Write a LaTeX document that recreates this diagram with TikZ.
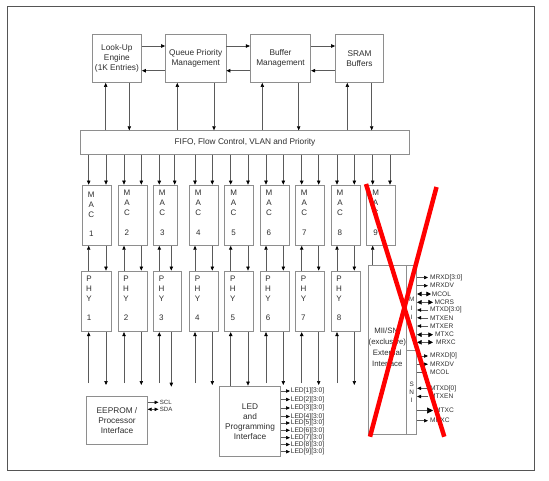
\documentclass[tikz,border=0pt]{standalone}
\usepackage{fontspec}
\setmainfont{Liberation Sans}
\usetikzlibrary{arrows.meta}
\definecolor{boxc}{HTML}{8E8E8E}
\definecolor{linec}{HTML}{5A5A5A}
\definecolor{txtc}{HTML}{2E2E2E}
\definecolor{framec}{HTML}{555555}
\begin{document}
\begin{tikzpicture}[x=1pt,y=-1pt,
  box/.style={draw=boxc, line width=0.75pt, fill=white, inner sep=0pt, text=txtc, align=center, font=\fontsize{8.3}{10}\selectfont},
  boxline/.style={draw=boxc, line width=0.75pt},
  lbl/.style={inner sep=0pt, text=txtc, align=center, font=\fontsize{8}{10.2}\selectfont},
  plbl/.style={inner sep=0pt, text=txtc, align=center, font=\fontsize{8}{9.8}\selectfont},
  pinlbl/.style={inner sep=0pt, text=txtc, anchor=west, font=\fontsize{6.6}{7}\selectfont},
  ledlbl/.style={inner sep=0pt, text=txtc, anchor=west, font=\fontsize{6.7}{7}\selectfont},
  arr/.style={draw=linec, line width=0.6pt, -{Triangle[length=4pt,width=3.4pt,color=black]}},
  tarr/.style={arr, line width=1.1pt},
  dbl/.style={draw=linec, line width=0.6pt, {Triangle[length=4.6pt,width=4.6pt,color=black]}-{Triangle[length=4.6pt,width=4.6pt,color=black]}},
  sdbl/.style={draw=linec, line width=0.6pt, {Triangle[length=4pt,width=3.4pt,color=black]}-{Triangle[length=4pt,width=3.4pt,color=black]}},
  bigarr/.style={draw=linec, line width=0.6pt, -{Triangle[length=6pt,width=6pt,color=black]}},
  plain/.style={draw=linec, line width=0.6pt}
]
\useasboundingbox (0,0) rectangle (549,480);
\draw[framec, line width=1pt] (7.7,6.7) rectangle (534.3,470);

% top row
\node[box, minimum width=49.2pt, minimum height=48.5pt] (lookup) at (116.9,58.25) {Look-Up\\Engine\\(1K Entries)};
\node[box, minimum width=60.5pt, minimum height=48.5pt] (queue) at (195.75,58.25) {Queue Priority\\Management};
\node[box, minimum width=60.4pt, minimum height=48.5pt] (buffer) at (280.5,58.25) {Buffer\\Management};
\node[box, minimum width=48pt, minimum height=48.5pt] (sram) at (359.5,58.25) {SRAM\\Buffers};

\draw[arr] (lookup.east |- 0,46) -- (queue.west |- 0,46);
\draw[arr] (queue.east |- 0,46) -- (buffer.west |- 0,46);
\draw[arr] (buffer.east |- 0,46) -- (sram.west |- 0,46);
\draw[tarr] (queue.west |- 0,70.7) -- (lookup.east |- 0,70.7);
\draw[tarr] (buffer.west |- 0,70.7) -- (queue.east |- 0,70.7);
\draw[arr] (sram.west |- 0,70.7) -- (buffer.east |- 0,70.7);

% FIFO
\node[box, minimum width=328.6pt, minimum height=23.6pt] (fifo) at (245,142.5) {FIFO, Flow Control, VLAN and Priority};

\foreach \b/\u/\d in {lookup/105.7/129.3, queue/177.3/214, buffer/262.3/298.7, sram/347.3/371.7} {
  \draw[arr] (\u,0 |- fifo.north) -- (\u,0 |- \b.south);
  \draw[arr] (\d,0 |- \b.south) -- (\d,0 |- fifo.north);
}

% MAC boxes
\foreach \i/\l/\r/\u/\d/\lw/\dy in {1/82.3/111/88.7/106/0.6/-6.8, 2/118/147.3/124/141.3/0.6/-5.2, 3/153.3/177.3/159.3/174.7/1.1/-5.2, 4/189.3/218/195/212.3/0.6/-5.2, 5/224.7/253.3/230.7/248/1.1/-5.2, 6/260/289/266/283.3/0.6/-5.2, 7/295.3/324.3/301.7/318.7/1.1/-5.2, 8/331/360/337/354.3/0.6/-5.2, 9/366.7/395.3/372.7/390/0.6/-5.2} {
  \pgfmathsetmacro\bw{\r-\l}
  \pgfmathsetmacro\bx{(\l+\r)/2}
  \node[box, minimum width=\bw pt, minimum height=60.3pt] (mac\i) at (\bx,215.2) {};
  \node[lbl, anchor=north] (macl\i) at ([xshift=9.3pt,yshift=\dy pt]mac\i.north west) {M\\A\\C\\[9.2pt]\i};
  \draw[arr, line width=\lw pt] (\u,0 |- fifo.south) -- (\u,0 |- mac\i.north);
  \draw[arr] (\d,0 |- fifo.south) -- (\d,0 |- mac\i.north);
}

% PHY boxes
\foreach \i/\l/\r/\u/\d/\lw in {1/81/111.7/88.7/106/0.6, 2/118/147.3/124/141.3/0.6, 3/153.3/181.7/159.3/171.3/1.1, 4/189.3/218/195/212.3/0.6, 5/224.7/253.3/230.7/248/1.1, 6/260/289/266/283.3/0.6, 7/295.3/324.3/301.7/318.7/1.1, 8/331/360/337/354.3/0.6} {
  \pgfmathsetmacro\bw{\r-\l}
  \pgfmathsetmacro\bx{(\l+\r)/2}
  \node[box, minimum width=\bw pt, minimum height=60.7pt] (phy\i) at (\bx,301.35) {};
  \node[plbl, anchor=north] (phyl\i) at ([xshift=8.5pt,yshift=-5.6pt]phy\i.north west) {P\\H\\Y\\[9.6pt]\i};
  \draw[arr, line width=\lw pt] (\u,0 |- phy\i.north) -- (\u,0 |- mac\i.south);
  \draw[arr] (\d,0 |- mac\i.south) -- (\d,0 |- phy\i.north);
}

% bottom boxes
\node[box, minimum width=60.6pt, minimum height=48pt] (eeprom) at (117,420.3) {EEPROM /\\Processor\\Interface};
\node[box, minimum width=61.4pt, minimum height=70.7pt] (led) at (250,421.35) {LED\\and\\Programming\\Interface};

% PHY bottom connectors
\foreach \i/\u/\d/\lw/\e in {1/88.7/106/0.6/385, 2/124/141.3/0.6/385, 3/159.3/171.3/1.1/386.7, 4/195/212.3/0.6/385, 6/266/283.3/0.6/385, 7/301.7/318.7/1.1/385, 8/337/354.3/0.6/385} {
  \coordinate (bu\i) at (\u,383);
  \coordinate (bd\i) at (\d,\e);
  \draw[arr, line width=\lw pt] (bu\i) -- (bu\i |- phy\i.south);
  \draw[arr] (phy\i.south -| bd\i) -- (bd\i);
}
\draw[tarr] (230.7,0 |- led.north) -- (230.7,0 |- phy5.south);
\draw[arr] (248,0 |- phy5.south) -- (248,0 |- led.north);

% EEPROM signals
\coordinate (scl) at (158.5,402.3);
\coordinate (sda) at (158.5,409.3);
\draw[arr] (eeprom.east |- scl) -- (scl);
\node[pinlbl, font=\fontsize{6.1}{7}\selectfont] at ([xshift=1.2pt]scl) {SCL};
\draw[sdbl] (eeprom.east |- sda) -- (sda);
\node[pinlbl, font=\fontsize{6.1}{7}\selectfont] at ([xshift=1.2pt]sda) {SDA};

% LED signals
\foreach \k/\y in {1/391, 2/399.5, 3/408, 4/416.5, 5/423, 6/430.3, 7/437.7, 8/444.5, 9/451.7} {
  \coordinate (ledo\k) at (290,\y);
  \draw[arr] (led.east |- ledo\k) -- (ledo\k);
  \node[ledlbl] at ([xshift=0.6pt]ledo\k) {LED[\k][3:0]};
}

% MII / SNI block
\node[box, minimum width=48.7pt, minimum height=169.5pt] (mii) at (392.35,349.75) {};
\coordinate (divtop) at (406.7,265);
\coordinate (divmid) at (406.7,350);
\draw[boxline] (divtop) -- (divtop |- mii.south);
\draw[boxline] (divmid) -- (mii.east |- divmid);
\node[lbl, font=\fontsize{7.8}{10.2}\selectfont] (miitxt) at (387.3,347.3) {MII/SNI\\(exclusive)\\[1.6pt]External\\Interface};
\node[lbl, font=\fontsize{6.4}{8.7}\selectfont] (miil) at (411.7,308.2) {M\\I\\I};
\node[lbl, font=\fontsize{6.4}{8.2}\selectfont] (snil) at (411.7,392.2) {S\\N\\I};

\draw[arr] (372.7,0 |- mii.north) -- (372.7,0 |- mac9.south);

% MII pins
\foreach \n/\y/\s/\e/\lx in {MRXD[3:0]/277.5/arr/428/430, MRXDV/285.7/arr/428/430, MCOL/294/dbl/431/431.7, MCRS/302.3/dbl/433/434.3, MTXC/334.7/dbl/433/435, MRXC/342.3/dbl/433/436,
  MRXD[0]/356/arr/428/430, MRXDV/364.2/arr/428/430, MCOL/372.2/plain/427/430, MTXC/410.5/bigarr/433/435, MRXC/420.7/arr/428/430} {
  \coordinate (pe) at (\e,\y);
  \draw[\s] (mii.east |- pe) -- (pe);
  \node[pinlbl] at (\lx,\y) {\n};
}
\foreach \n/\y in {MTXD[3:0]/310, MTXEN/317.8, MTXER/326, MTXD[0]/388.3, MTXEN/396.5} {
  \coordinate (pe) at (428,\y);
  \draw[arr] (pe) -- (mii.east |- pe);
  \node[pinlbl] at (430,\y) {\n};
}

% red cross
\draw[red, line width=4.5pt] (366,184) -- (444.3,436.7);
\draw[red, line width=4.5pt] (436.5,187) -- (370,436.7);
\end{tikzpicture}
\end{document}
